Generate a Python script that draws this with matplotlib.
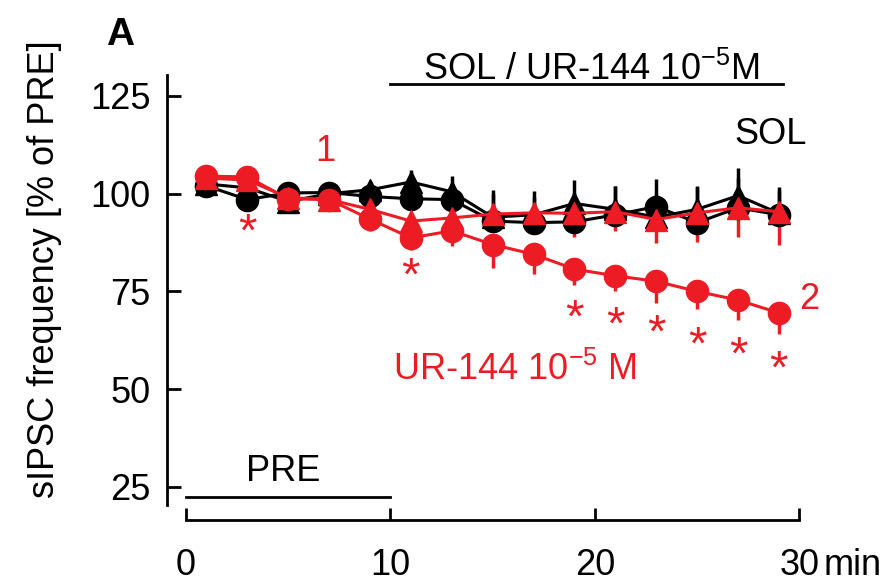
import matplotlib
matplotlib.use("Agg")
import matplotlib.pyplot as plt
import numpy as np

# time points (min)
times = [1, 3, 5, 7, 9, 11, 13, 15, 17, 19, 21, 23, 25, 27, 29]

# UR-144 10^-5 M (red)
ur_circ = [104.5, 104.3, 98.7, 98.5, 93.5, 88.7, 90.5, 87.0, 84.5, 80.7, 79.0, 77.6, 75.0, 72.8, 69.5]
ur_circ_err = [2, 2, 2, 2, 3, 3, 4, 6, 5, 4, 4, 5.5, 4.5, 5, 5.5]
ur_tri = [104.0, 103.5, 99.0, 98.5, 96.0, 93.0, 93.8, 94.8, 95.1, 95.0, 95.4, 93.4, 95.1, 96.4, 95.4]
ur_tri_err = [2, 2, 2, 2, 3, 4, 5, 4, 4, 6, 5, 6, 7.5, 7.5, 8.5]

# SOL (black)
sol_circ = [102.0, 98.5, 100.2, 100.3, 99.3, 98.7, 98.5, 93.0, 92.6, 92.8, 94.6, 96.7, 92.6, 96.4, 94.6]
sol_circ_err = [2, 2, 2, 2, 2, 3, 4, 8, 6.5, 7.5, 7.5, 7, 9, 7.5, 7]
sol_tri = [102.5, 101.5, 98.0, 100.0, 101.0, 103.0, 100.5, 94.0, 94.6, 97.5, 96.0, 94.0, 96.0, 99.5, 95.0]
sol_tri_err = [2, 2, 2, 2, 2, 3, 4, 6, 6, 6, 6, 6, 6, 7, 6]

# significance stars
star_t = [3, 11, 19, 21, 23, 25, 27, 29]
star_y = [92.6, 81.3, 70.7, 68.7, 66.8, 63.6, 61.1, 57.6]

RED = "#ed1c24"
FS = 26

plt.rcParams["font.family"] = ["Liberation Sans", "DejaVu Sans"]

fig = plt.figure(figsize=(8.93, 5.85), dpi=100)
ax = fig.add_axes([0.187, 0.137, 0.731, 0.735])


def series(y, err, color, marker, up):
    y = np.array(y)
    err = np.array(err)
    zero = np.zeros_like(err)
    yerr = [zero, err] if up else [err, zero]
    ax.errorbar(times, y, yerr=yerr, color=color, marker=marker, markersize=16,
                linewidth=2.2, elinewidth=2.5, capsize=0, zorder=3)


series(sol_circ, sol_circ_err, "black", "o", True)
series(sol_tri, sol_tri_err, "black", "^", True)
series(ur_tri, ur_tri_err, RED, "^", False)
series(ur_circ, ur_circ_err, RED, "o", False)

# asterisk glyph sits high in its box, so shift it down a little
for t, y in zip(star_t, star_y):
    ax.annotate("*", xy=(t, y), xytext=(0, -8), textcoords="offset points",
                color=RED, fontsize=34, ha="center", va="center")

ax.text(6.8, 110.7, "1", color=RED, fontsize=FS, ha="center", va="center")
ax.text(28.6, 115.1, "SOL", color="black", fontsize=FS, ha="center", va="center")
ax.text(30.5, 72.9, "2", color=RED, fontsize=FS, ha="center", va="center")
ax.text(16.1, 55.0, r"UR-144 10$^{\mathregular{-5}}$ M", color=RED, fontsize=FS,
        ha="center", va="center")
ax.text(19.8, 131.7, r"SOL / UR-144 10$^{\mathregular{-5}}$M", color="black",
        fontsize=FS, ha="center", va="center")
ax.plot([10, 29.2], [128, 128], color="black", linewidth=2, clip_on=False)
ax.plot([0, 10], [22.3, 22.3], color="black", linewidth=2, clip_on=False)
ax.text(4.75, 28.9, "PRE", color="black", fontsize=FS, ha="center", va="center")

ax.set_xlim(-0.93, 31)
ax.set_ylim(20.4, 130.4)
ax.set_xticks([0, 10, 20, 30])
ax.set_yticks([25, 50, 75, 100, 125])

for s in ["top", "right"]:
    ax.spines[s].set_visible(False)
ax.spines["bottom"].set_position(("outward", 11))
ax.spines["bottom"].set_bounds(0, 30)
ax.spines["bottom"].set_linewidth(2)
ax.spines["left"].set_linewidth(2)

ax.tick_params(axis="x", direction="in", length=9, width=2, pad=20, labelsize=FS)
ax.tick_params(axis="y", direction="in", length=10, width=2, pad=12, labelsize=FS)

ax.annotate("min", xy=(32.6, 0), xycoords=ax.get_xaxis_transform(),
            xytext=(0, -31), textcoords="offset points", fontsize=FS,
            ha="center", va="top", annotation_clip=False)

fig.text(0.05, 0.54, "sIPSC frequency [% of PRE]", rotation=90, fontsize=FS,
         ha="center", va="center")
fig.text(0.135, 0.94, "A", fontsize=28, fontweight="bold", ha="center", va="center")

fig.savefig("out.png", dpi=100)
